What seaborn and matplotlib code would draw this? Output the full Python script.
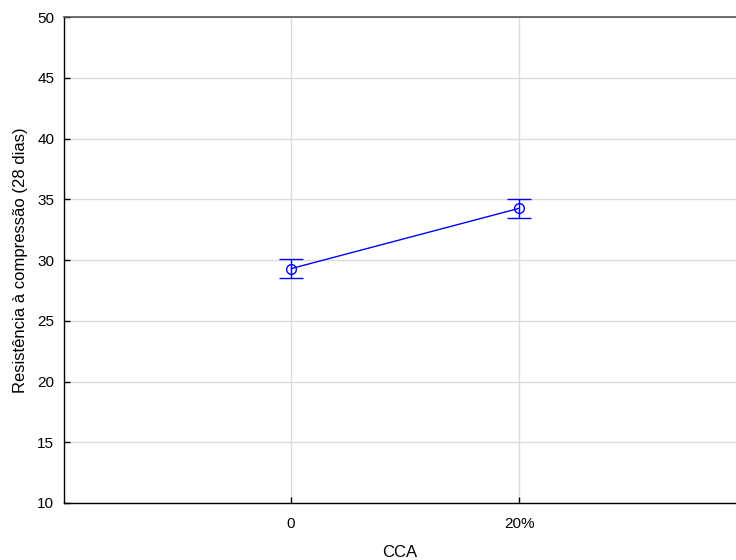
import matplotlib
matplotlib.use("Agg")
import matplotlib.pyplot as plt
import seaborn as sns
import pandas as pd

# Compressive strength at 28 days by rice-husk-ash content
cca_levels = ["0", "20%"]
mean_strength = [29.29, 34.25]
ci_half = [0.78, 0.79]
y_ticks = [10, 15, 20, 25, 30, 35, 40, 45, 50]

sns.set_theme(style="white")
plt.rcParams["font.family"] = ["Liberation Sans", "DejaVu Sans"]

df = pd.DataFrame({"pos": [0, 1], "CCA": cca_levels, "strength": mean_strength})

fig = plt.figure(figsize=(7.36, 5.6), dpi=100)
ax = fig.add_axes([0.087, 0.1018, 0.913, 0.8678])

sns.lineplot(data=df, x="pos", y="strength", ax=ax, color="#0000ff",
             linewidth=1.0, marker="o", markersize=7, markerfacecolor="none",
             markeredgecolor="#0000ff", markeredgewidth=1.0, zorder=3)
ax.errorbar(df["pos"], df["strength"], yerr=ci_half, fmt="none",
            ecolor="#0000ff", elinewidth=1.0, capsize=8.5, capthick=1.0, zorder=3)

ax.set_xlim(-0.996, 1.952)
ax.set_ylim(10, 50)
ax.set_xticks([0, 1])
ax.set_xticklabels(cca_levels)
ax.set_yticks(y_ticks)

ax.grid(True, color="#dcdcdc", linewidth=1.0)
ax.set_axisbelow(True)

for side in ["left", "bottom"]:
    ax.spines[side].set_color("black")
    ax.spines[side].set_linewidth(1.0)
ax.spines["top"].set_color("#555555")
ax.spines["top"].set_linewidth(1.2)
ax.spines["right"].set_visible(False)

ax.tick_params(axis="both", direction="in", length=4, width=1, color="black",
               labelsize=11, labelcolor="black", bottom=True, left=True,
               top=False, right=False)
ax.tick_params(axis="y", pad=7)
ax.tick_params(axis="x", pad=10)

ax.set_xlabel("CCA", fontsize=12, color="black")
ax.xaxis.set_label_coords(0.5, -0.0865)
ax.xaxis.label.set_va("top")
ax.set_ylabel("Resistência à compressão (28 dias)", fontsize=12, labelpad=7,
              color="black")

fig.savefig("out.png", dpi=100)
